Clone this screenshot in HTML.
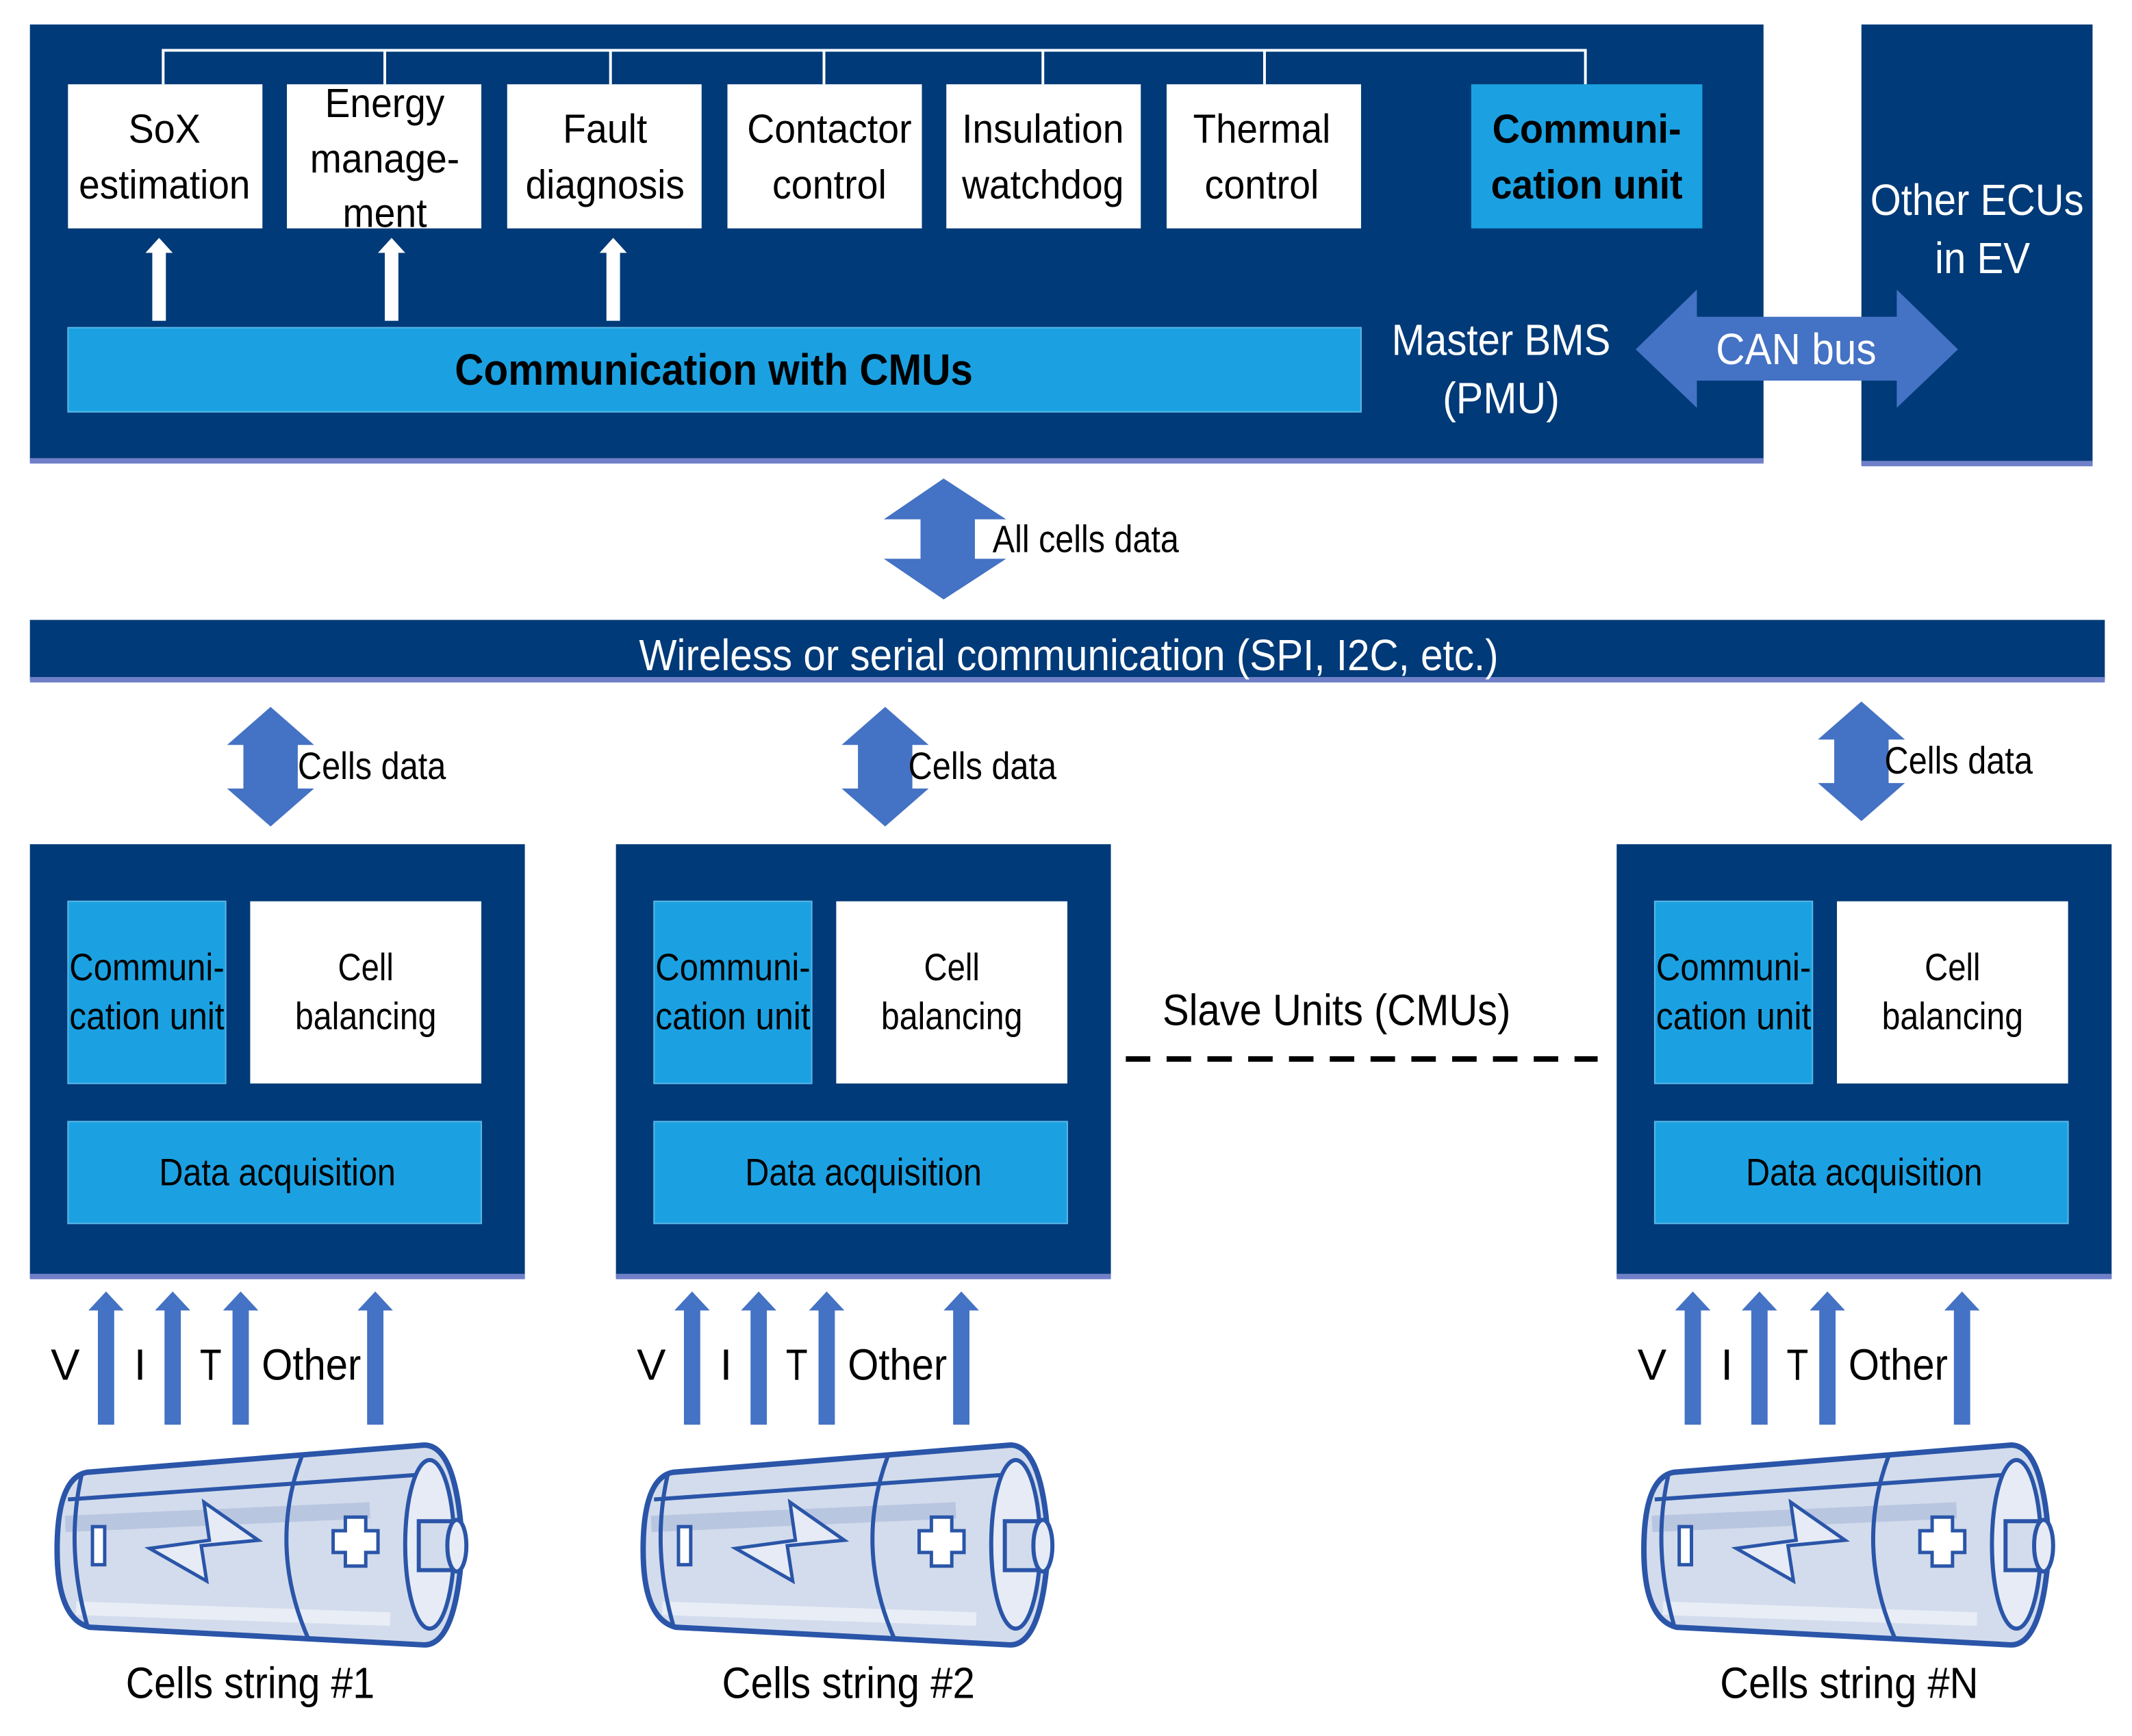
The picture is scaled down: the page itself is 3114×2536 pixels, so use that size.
<!DOCTYPE html>
<html><head><meta charset="utf-8"><style>
html,body{margin:0;padding:0;background:#fff}
svg{display:block}
text{font-family:"Liberation Sans Narrow","Liberation Sans",sans-serif}
</style></head><body>
<svg width="3114" height="2536" viewBox="0 0 1568 1277" preserveAspectRatio="none" xmlns="http://www.w3.org/2000/svg">
<defs>
<g id="bat">
  <path d="M22,20 L270,0 Q294,0 298,73 Q294,147 270,147 L24,134 Q0,128 0,77 Q0,24 22,20 Z" fill="#d3dcec" stroke="#2a55a8" stroke-width="4"/>
  <path d="M8,40 L264,22" stroke="#2a55a8" stroke-width="3" fill="none"/>
  <path d="M6,58 L230,48" stroke="#b8c6e0" stroke-width="12" fill="none"/>
  <path d="M14,120 L245,128" stroke="#e8edf6" stroke-width="10" fill="none"/>
  <path d="M180,8 Q155,75 185,143" stroke="#2a55a8" stroke-width="3" fill="none"/>
  <path d="M18,22 Q6,75 22,132" stroke="#2a55a8" stroke-width="3" fill="none"/>
  <ellipse cx="274" cy="73" rx="18" ry="62" fill="#e6ebf5" stroke="#2a55a8" stroke-width="3"/>
  <rect x="266" y="56" width="28" height="36" fill="#d3dcec" stroke="#2a55a8" stroke-width="3"/>
  <ellipse cx="294" cy="74" rx="7" ry="19" fill="#e6ebf5" stroke="#2a55a8" stroke-width="3"/>
  <rect x="26" y="60" width="9" height="28" fill="#fff" stroke="#2a55a8" stroke-width="2.5"/>
  <path d="M68,76 L112,70 L108,42 L148,70 L106,74 L110,100 Z" fill="#e6ebf5" stroke="#2a55a8" stroke-width="2.5"/>
  <path d="M203,63 h9 v-10 h15 v10 h9 v16 h-9 v10 h-15 v-10 h-9 Z" fill="#fff" stroke="#2a55a8" stroke-width="2.5"/>
</g>
<g id="uparr">
  <path d="M-6,98 V14 H-13 L0,0 L13,14 H6 V98 Z" fill="#4472c4"/>
</g>
<g id="vdbl">
  <path d="M0,0 L32,28 H20 V60 H32 L0,88 L-32,60 H-20 V28 H-32 Z" fill="#4472c4"/>
</g>
<g id="slave">
  <rect x="22" y="621" width="364" height="319" fill="#003a78"/>
  <rect x="22" y="937" width="364" height="4" fill="#6f7fc8"/>
  <rect x="50" y="663" width="116" height="134" fill="#1ba1e2" stroke="#5ab6e6" stroke-width="1"/>
  <rect x="184" y="663" width="170" height="134" fill="#fff"/>
  <rect x="50" y="825" width="304" height="75" fill="#1ba1e2" stroke="#5ab6e6" stroke-width="1"/>
  <text x="108" y="721" font-size="28" text-anchor="middle" textLength="114" lengthAdjust="spacingAndGlyphs">Communi-</text>
  <text x="108" y="757" font-size="28" text-anchor="middle" textLength="114" lengthAdjust="spacingAndGlyphs">cation unit</text>
  <text x="269" y="721" font-size="28" text-anchor="middle" textLength="41" lengthAdjust="spacingAndGlyphs">Cell</text>
  <text x="269" y="757" font-size="28" text-anchor="middle" textLength="104" lengthAdjust="spacingAndGlyphs">balancing</text>
  <text x="204" y="872" font-size="28" text-anchor="middle" textLength="174" lengthAdjust="spacingAndGlyphs">Data acquisition</text>
  <use href="#uparr" x="78" y="950"/>
  <use href="#uparr" x="127" y="950"/>
  <use href="#uparr" x="177" y="950"/>
  <use href="#uparr" x="276" y="950"/>
  <text x="48" y="1015" font-size="32" text-anchor="middle">V</text>
  <text x="103" y="1015" font-size="32" text-anchor="middle">I</text>
  <text x="155" y="1015" font-size="32" text-anchor="middle" textLength="16" lengthAdjust="spacingAndGlyphs">T</text>
  <text x="229" y="1015" font-size="32" text-anchor="middle" textLength="73" lengthAdjust="spacingAndGlyphs">Other</text>
  <use href="#bat" x="42" y="1063"/>
</g>
</defs>

<rect x="22" y="18" width="1275" height="322" fill="#003a78"/>
<rect x="22" y="337" width="1275" height="4" fill="#6f7fc8"/>
<rect x="1369" y="18" width="170" height="324" fill="#003a78"/>
<rect x="1369" y="339" width="170" height="4" fill="#6f7fc8"/>
<path d="M120,62 V37 H1166 V62 M283,37 V62 M449,37 V62 M606,37 V62 M767,37 V62 M930,37 V62" stroke="#fff" stroke-width="2" fill="none"/>
<g fill="#fff">
<rect x="50" y="62" width="143" height="106"/>
<rect x="211" y="62" width="143" height="106"/>
<rect x="373" y="62" width="143" height="106"/>
<rect x="535" y="62" width="143" height="106"/>
<rect x="696" y="62" width="143" height="106"/>
<rect x="858" y="62" width="143" height="106"/>
</g>
<rect x="1082" y="62" width="170" height="106" fill="#1ba1e2"/>
<g font-size="30" text-anchor="middle" fill="#000" lengthAdjust="spacingAndGlyphs">
<text x="121" y="105" textLength="53" lengthAdjust="spacingAndGlyphs">SoX</text><text x="121" y="146" textLength="126" lengthAdjust="spacingAndGlyphs">estimation</text>
<text x="283" y="86" textLength="88" lengthAdjust="spacingAndGlyphs">Energy</text><text x="283" y="127" textLength="110" lengthAdjust="spacingAndGlyphs">manage-</text><text x="283" y="167" textLength="62" lengthAdjust="spacingAndGlyphs">ment</text>
<text x="445" y="105" textLength="62" lengthAdjust="spacingAndGlyphs">Fault</text><text x="445" y="146" textLength="117" lengthAdjust="spacingAndGlyphs">diagnosis</text>
<text x="610" y="105" textLength="121" lengthAdjust="spacingAndGlyphs">Contactor</text><text x="610" y="146" textLength="84" lengthAdjust="spacingAndGlyphs">control</text>
<text x="767" y="105" textLength="119" lengthAdjust="spacingAndGlyphs">Insulation</text><text x="767" y="146" textLength="119" lengthAdjust="spacingAndGlyphs">watchdog</text>
<text x="928" y="105" textLength="101" lengthAdjust="spacingAndGlyphs">Thermal</text><text x="928" y="146" textLength="84" lengthAdjust="spacingAndGlyphs">control</text>
<text x="1167" y="105" font-weight="bold" textLength="139" lengthAdjust="spacingAndGlyphs">Communi-</text><text x="1167" y="146" font-weight="bold" textLength="141" lengthAdjust="spacingAndGlyphs">cation unit</text>
</g>
<g fill="#fff">
<path d="M112,236 V186 H107 L117,175 L127,186 H122 V236 Z"/>
<path d="M283,236 V186 H278 L288,175 L298,186 H293 V236 Z"/>
<path d="M446,236 V186 H441 L451,175 L461,186 H456 V236 Z"/>
</g>
<rect x="50" y="241" width="951" height="62" fill="#1ba1e2" stroke="#5ab6e6" stroke-width="1"/>
<text x="525" y="283" font-size="32" font-weight="bold" text-anchor="middle" textLength="381" lengthAdjust="spacingAndGlyphs">Communication with CMUs</text>
<text x="1104" y="261" font-size="32" text-anchor="middle" fill="#fff" textLength="161" lengthAdjust="spacingAndGlyphs">Master BMS</text>
<text x="1104" y="304" font-size="32" text-anchor="middle" fill="#fff" textLength="86" lengthAdjust="spacingAndGlyphs">(PMU)</text>
<path d="M1203,257 L1248,213 V233 H1395 V213 L1440,257 L1395,300 V280 H1248 V300 Z" fill="#4472c4"/>
<text x="1321" y="268" font-size="32" text-anchor="middle" fill="#fff" textLength="118" lengthAdjust="spacingAndGlyphs">CAN bus</text>
<text x="1454" y="158" font-size="32" text-anchor="middle" fill="#fff" textLength="157" lengthAdjust="spacingAndGlyphs">Other ECUs</text>
<text x="1458" y="201" font-size="32" text-anchor="middle" fill="#fff" textLength="70" lengthAdjust="spacingAndGlyphs">in EV</text>

<path d="M694,352 L740,382 H717 V411 H740 L694,441 L650,411 H677 V382 H650 Z" fill="#4472c4"/>
<text x="730" y="406" font-size="28" textLength="137" lengthAdjust="spacingAndGlyphs">All cells data</text>

<rect x="22" y="456" width="1526" height="44" fill="#003a78"/>
<rect x="22" y="498" width="1526" height="4" fill="#6f7fc8"/>
<text x="786" y="493" font-size="32" text-anchor="middle" fill="#fff" textLength="632" lengthAdjust="spacingAndGlyphs">Wireless or serial communication (SPI, I2C, etc.)</text>

<use href="#vdbl" x="199" y="520"/>
<text x="219" y="573" font-size="28" textLength="109" lengthAdjust="spacingAndGlyphs">Cells data</text>
<use href="#vdbl" x="651" y="520"/>
<text x="668" y="573" font-size="28" textLength="109" lengthAdjust="spacingAndGlyphs">Cells data</text>
<use href="#vdbl" x="1369" y="516"/>
<text x="1386" y="569" font-size="28" textLength="109" lengthAdjust="spacingAndGlyphs">Cells data</text>

<use href="#slave"/>
<use href="#slave" x="431"/>
<use href="#slave" x="1167"/>

<line x1="828" y1="779" x2="1175" y2="779" stroke="#000" stroke-width="4" stroke-dasharray="18,12"/>
<text x="983" y="754" font-size="32" text-anchor="middle" textLength="256" lengthAdjust="spacingAndGlyphs">Slave Units (CMUs)</text>

<text x="184" y="1249" font-size="32" text-anchor="middle" textLength="183" lengthAdjust="spacingAndGlyphs">Cells string #1</text>
<text x="624" y="1249" font-size="32" text-anchor="middle" textLength="186" lengthAdjust="spacingAndGlyphs">Cells string #2</text>
<text x="1360" y="1249" font-size="32" text-anchor="middle" textLength="190" lengthAdjust="spacingAndGlyphs">Cells string #N</text>
</svg>
</body></html>
